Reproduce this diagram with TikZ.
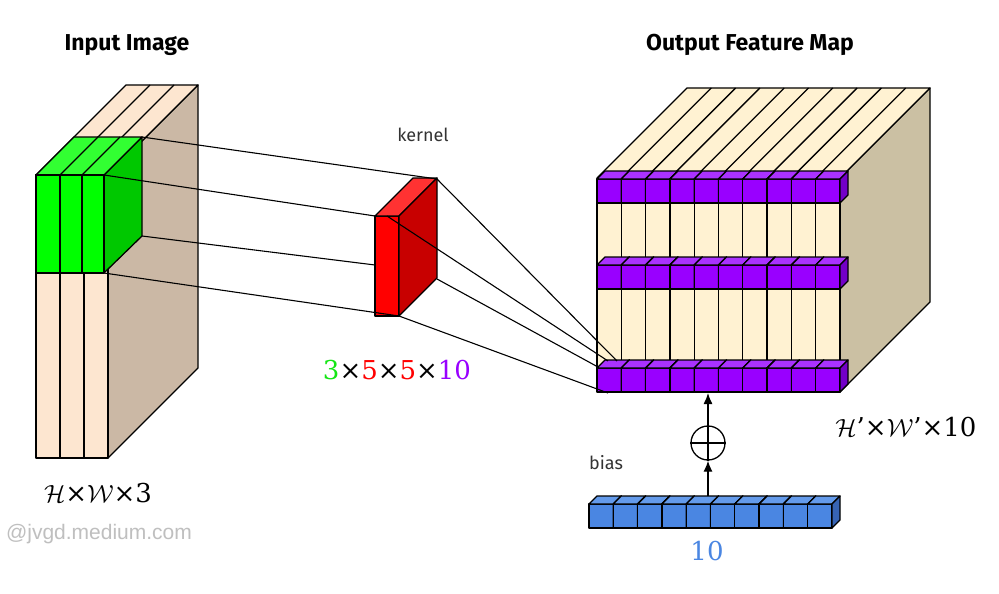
\documentclass[tikz,border=0pt]{standalone}
\usepackage{fontspec}
\usetikzlibrary{arrows.meta}
\setmainfont{Fira Sans}
\newfontfamily\wm{Liberation Sans}
\newfontfamily\ser{DejaVu Serif}
\begin{document}
\begin{tikzpicture}[x=1pt,y=-1pt,line join=round,
  every path/.style={draw=black,line width=1.3pt},
  lbl/.style={inner sep=0pt,anchor=center},
  conn/.style={draw=black,line width=1.1pt}]
\definecolor{incream}{RGB}{253,230,208}
\definecolor{inside}{RGB}{203,184,165}
\definecolor{outcream}{RGB}{255,242,210}
\definecolor{outside}{RGB}{203,192,163}
\definecolor{gfront}{RGB}{0,255,0}
\definecolor{gtop}{RGB}{50,255,50}
\definecolor{gside}{RGB}{0,200,0}
\definecolor{rfront}{RGB}{255,0,0}
\definecolor{rtop}{RGB}{255,50,50}
\definecolor{rside}{RGB}{200,0,0}
\definecolor{pfront}{RGB}{153,0,255}
\definecolor{ptop}{RGB}{170,50,255}
\definecolor{pside}{RGB}{115,0,200}
\definecolor{bfront}{RGB}{74,134,226}
\definecolor{btop}{RGB}{100,155,235}
\definecolor{bside}{RGB}{55,100,180}
\definecolor{num}{RGB}{74,134,226}
\definecolor{vio}{RGB}{153,0,255}
\definecolor{grn}{RGB}{20,230,20}
\newcommand\mybox[8]{%
  \filldraw[fill=#6] (#1,#2) rectangle ++(#3,#4);
  \filldraw[fill=#7] (#1,#2) -- ++(#5,-#5) -- ++(#3,0) -- ++(-#5,#5) -- cycle;
  \filldraw[fill=#8] (#1+#3,#2) -- ++(#5,-#5) -- ++(0,#4) -- ++(-#5,#5) -- cycle;}
\path[draw=none,fill=white] (0,0) rectangle (999,594);
% ---- input image
\filldraw[fill=inside] (108,175) -- (198,85) -- (198,368) -- (108,458) -- cycle;
\filldraw[fill=incream] (36,175) -- (126,85) -- (198,85) -- (108,175) -- cycle;
\draw (60,175) -- (150,85) (84,175) -- (174,85);
\foreach \x in {36,60,84}{\filldraw[fill=incream] (\x,175) rectangle ++(24,283);}
% green patch
\filldraw[fill=gside] (104,175) -- (142,137) -- (142,236) -- (104,273) -- cycle;
\filldraw[fill=gtop] (36,175) -- (74,137) -- (142,137) -- (104,175) -- cycle;
\draw (60,175) -- (98,137) (82,175) -- (120,137);
\foreach \x/\w in {36/24,60/22,82/22}{\filldraw[fill=gfront] (\x,175) rectangle ++(\w,98);}
\coordinate (g1) at (142,137); \coordinate (g2) at (104,175);
\coordinate (g3) at (142,236); \coordinate (g4) at (104,273);
% ---- kernel
\mybox{375}{216}{24}{100}{38}{rfront}{rtop}{rside}
\coordinate (k1) at (437,179); \coordinate (k2) at (375,216);
\coordinate (k3) at (375,265); \coordinate (k4) at (399,316);
\coordinate (k5) at (387,216); \coordinate (k6) at (437,279);
\draw[conn] (g1) -- (k1); \draw[conn] (g2) -- (k2);
\draw[conn] (g3) -- (k3); \draw[conn] (g4) -- (k4);
% ---- output feature map
\filldraw[fill=outside] (840,178) -- (930,88) -- (930,302) -- (840,392) -- cycle;
\filldraw[fill=outcream] (597,178) -- (687,88) -- (930,88) -- (840,178) -- cycle;
\foreach \i in {1,...,9}{\draw (597+24.3*\i,178) -- ++(90,-90);}
\foreach \i in {0,...,9}{\filldraw[fill=outcream] (597+24.3*\i,200) rectangle ++(24.3,170);}
\foreach \yy in {179,265,368}{
  \foreach \i in {0,...,9}{\mybox{597+24.3*\i}{\yy}{24.3}{24}{8}{pfront}{ptop}{pside}}}
\coordinate (o1) at (617,361); \coordinate (o2) at (608,361);
\coordinate (o3) at (598,367); \coordinate (o4) at (608,393);
\draw[conn] (k1) -- (o1); \draw[conn] (k5) -- (o2);
\draw[conn] (k6) -- (o3); \draw[conn] (k4) -- (o4);
% ---- bias
\foreach \i in {0,...,9}{\mybox{589+24.3*\i}{504}{24.3}{24}{8}{bfront}{btop}{bside}}
\node[circle,draw,line width=1.3pt,minimum size=34pt,inner sep=0pt] (plus) at (708,443) {};
\draw (plus.north) -- (plus.south) (plus.west) -- (plus.east);
\coordinate (bt) at (708,496); \coordinate (ob) at (708,393);
\draw[-{Latex[length=11pt,width=9pt]}] (bt) -- (plus);
\draw[-{Latex[length=11pt,width=9pt]}] (plus) -- (ob);
% ---- texts
\node[lbl,font=\bfseries\fontsize{23}{26}\selectfont] (t1) at (127,45) {Input Image};
\node[lbl,font=\bfseries\fontsize{23}{26}\selectfont] (t2) at (750,45) {Output Feature Map};
\node[lbl,font=\fontsize{18}{20}\selectfont,text=black!80] (t3) at (423,135) {kernel};
\node[lbl,font=\ser\fontsize{26}{30}\selectfont] (t4) at (397,370) {\textcolor{grn}{3}×\textcolor{red}{5}×\textcolor{red}{5}×\textcolor{vio}{10}};
\node[lbl,font=\ser\fontsize{26}{30}\selectfont] (t5) at (98,493) {$\mathcal{H}$×$\mathcal{W}$×3};
\node[lbl,font=\ser\fontsize{26}{30}\selectfont] (t6) at (906,427) {$\mathcal{H}$’×$\mathcal{W}$’×10};
\node[lbl,font=\fontsize{18}{20}\selectfont,text=black!80] (t7) at (606,463) {bias};
\node[lbl,font=\ser\fontsize{26}{30}\selectfont,text=num] (t8) at (707,551) {10};
\node[lbl,font=\wm\fontsize{21}{24}\selectfont,text=black!25] (t9) at (99,534) {@jvgd.medium.com};
\end{tikzpicture}
\end{document}
